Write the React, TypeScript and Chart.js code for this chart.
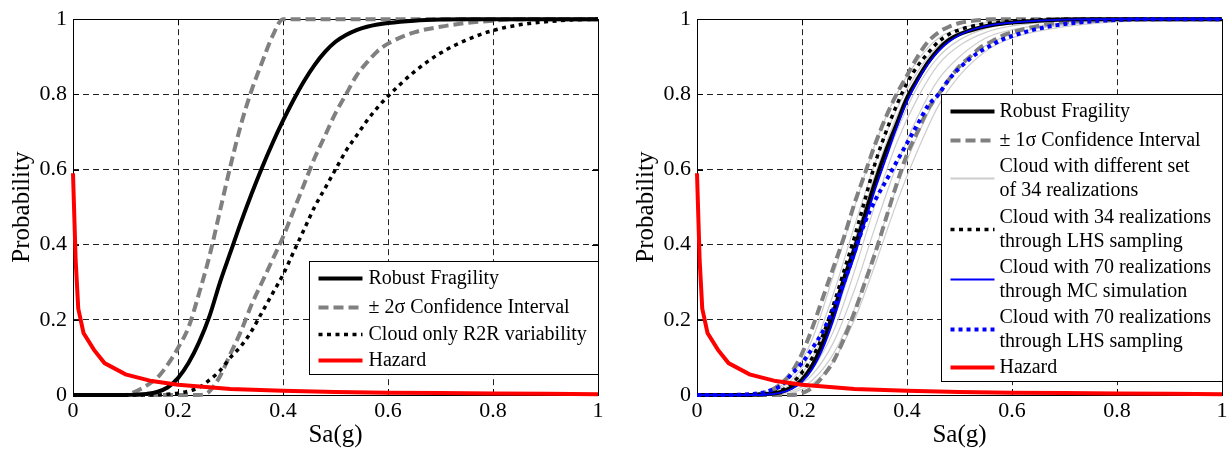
import React, { useEffect, useRef } from 'react';
import { Chart, registerables } from 'chart.js';

Chart.register(...registerables);

// ---------------- data ----------------
const TICK_VALUES = [0, 0.2, 0.4, 0.6, 0.8, 1];
const TICK_LABELS = ['0', '0.2', '0.4', '0.6', '0.8', '1'];

const SA = [
  0, 0.05, 0.1, 0.12, 0.14, 0.16,
  0.18, 0.2, 0.22, 0.24, 0.26, 0.28,
  0.3, 0.32, 0.34, 0.36, 0.38, 0.4,
  0.42, 0.44, 0.46, 0.48, 0.5, 0.52,
  0.54, 0.56, 0.58, 0.6, 0.65, 0.7,
  0.75, 0.8, 0.85, 0.9, 0.95, 1,
];

const LEFT_ROBUST = [
  0, 0, 0, 0.001, 0.003, 0.008,
  0.02, 0.045, 0.085, 0.14, 0.21, 0.3,
  0.38, 0.46, 0.535, 0.605, 0.67, 0.73,
  0.785, 0.835, 0.878, 0.913, 0.94, 0.958,
  0.971, 0.98, 0.986, 0.99, 0.996, 0.999,
  1, 1, 1, 1, 1, 1,
];
const LEFT_UPPER_2S = [
  0, 0, 0, 0.01, 0.025, 0.045,
  0.08, 0.125, 0.18, 0.27, 0.37, 0.49,
  0.61, 0.72, 0.81, 0.885, 0.955, 1,
  1, 1, 1, 1, 1, 1,
  1, 1, 1, 1, 1, 1,
  1, 1, 1, 1, 1, 1,
];
const LEFT_LOWER_2S = [
  0, 0, 0, 0, 0, 0,
  0, 0, 0, 0, 0.01, 0.05,
  0.11, 0.17, 0.24, 0.3, 0.36, 0.42,
  0.49, 0.56, 0.63, 0.69, 0.75, 0.8,
  0.85, 0.885, 0.915, 0.935, 0.965, 0.98,
  0.99, 0.996, 1, 1, 1, 1,
];
const LEFT_CLOUD_R2R = [
  0, 0, 0, 0, 0, 0,
  0.002, 0.005, 0.01, 0.02, 0.04, 0.065,
  0.1, 0.13, 0.17, 0.22, 0.27, 0.32,
  0.38, 0.44, 0.5, 0.55, 0.6, 0.65,
  0.69, 0.73, 0.765, 0.795, 0.86, 0.91,
  0.945, 0.97, 0.985, 0.993, 0.998, 1,
];

const RIGHT_ROBUST = [
  0, 0, 0, 0.001, 0.003, 0.008,
  0.02, 0.04, 0.08, 0.14, 0.22, 0.31,
  0.39, 0.48, 0.57, 0.65, 0.72, 0.79,
  0.84, 0.885, 0.92, 0.945, 0.96, 0.97,
  0.978, 0.984, 0.988, 0.991, 0.996, 0.999,
  1, 1, 1, 1, 1, 1,
];
const RIGHT_UPPER_1S = [
  0, 0, 0, 0.003, 0.012, 0.03,
  0.06, 0.11, 0.18, 0.26, 0.34, 0.42,
  0.51, 0.59, 0.67, 0.74, 0.8, 0.85,
  0.9, 0.94, 0.965, 0.98, 0.99, 0.995,
  0.998, 1, 1, 1, 1, 1,
  1, 1, 1, 1, 1, 1,
];
const RIGHT_LOWER_1S = [
  0, 0, 0, 0, 0, 0,
  0, 0.005, 0.02, 0.05, 0.09, 0.15,
  0.22, 0.3, 0.38, 0.47, 0.56, 0.64,
  0.7, 0.76, 0.8, 0.84, 0.875, 0.9,
  0.925, 0.94, 0.955, 0.965, 0.982, 0.992,
  0.996, 0.998, 1, 1, 1, 1,
];
const RIGHT_LHS34 = [
  0, 0, 0, 0.002, 0.005, 0.012,
  0.03, 0.06, 0.1, 0.16, 0.24, 0.33,
  0.42, 0.52, 0.62, 0.7, 0.77, 0.83,
  0.875, 0.91, 0.94, 0.96, 0.972, 0.98,
  0.986, 0.99, 0.993, 0.995, 0.998, 1,
  1, 1, 1, 1, 1, 1,
];
const RIGHT_MC70 = [
  0, 0, 0, 0, 0.002, 0.006,
  0.016, 0.035, 0.07, 0.125, 0.2, 0.29,
  0.37, 0.46, 0.55, 0.63, 0.71, 0.78,
  0.835, 0.88, 0.915, 0.94, 0.958, 0.97,
  0.978, 0.984, 0.988, 0.991, 0.996, 0.999,
  1, 1, 1, 1, 1, 1,
];
const RIGHT_LHS70 = [
  0, 0, 0.002, 0.005, 0.012, 0.025,
  0.055, 0.085, 0.125, 0.17, 0.23, 0.3,
  0.38, 0.46, 0.52, 0.57, 0.62, 0.67,
  0.72, 0.77, 0.8, 0.84, 0.87, 0.895,
  0.915, 0.93, 0.945, 0.955, 0.975, 0.987,
  0.994, 0.998, 1, 1, 1, 1,
];

// thin grey curves: different sets of 34 realizations
const SA_THIN = [0, 0.1, 0.14, 0.18, 0.22, 0.26, 0.3, 0.34, 0.38, 0.42, 0.46, 0.5, 0.55, 0.6, 0.7, 0.8, 1];
const REAL_1 = [0, 0, 0.01, 0.05, 0.15, 0.32, 0.5, 0.67, 0.8, 0.89, 0.95, 0.975, 0.99, 0.996, 1, 1, 1];
const REAL_2 = [0, 0, 0.008, 0.04, 0.12, 0.27, 0.45, 0.62, 0.76, 0.86, 0.93, 0.965, 0.985, 0.994, 0.999, 1, 1];
const REAL_3 = [0, 0, 0.006, 0.03, 0.1, 0.23, 0.41, 0.59, 0.74, 0.85, 0.92, 0.96, 0.982, 0.992, 0.998, 1, 1];
const REAL_4 = [0, 0, 0.004, 0.025, 0.085, 0.2, 0.37, 0.55, 0.7, 0.82, 0.9, 0.945, 0.975, 0.988, 0.997, 1, 1];
const REAL_5 = [0, 0, 0.003, 0.02, 0.07, 0.17, 0.33, 0.51, 0.67, 0.79, 0.88, 0.93, 0.965, 0.982, 0.995, 0.999, 1];
const REAL_6 = [0, 0, 0.002, 0.015, 0.055, 0.14, 0.28, 0.45, 0.61, 0.74, 0.84, 0.9, 0.95, 0.972, 0.99, 0.997, 1];
const REAL_7 = [0, 0, 0.001, 0.01, 0.04, 0.11, 0.23, 0.39, 0.55, 0.69, 0.8, 0.87, 0.93, 0.96, 0.985, 0.995, 1];
const REAL_8 = [0, 0, 0, 0.006, 0.03, 0.09, 0.2, 0.35, 0.51, 0.65, 0.77, 0.85, 0.915, 0.95, 0.98, 0.993, 1];
const REALIZATIONS = [REAL_1, REAL_2, REAL_3, REAL_4, REAL_5, REAL_6, REAL_7, REAL_8];

// hazard curve
const HAZ_SA = [0, 0.005, 0.01, 0.02, 0.04, 0.06, 0.1, 0.15, 0.2, 0.3, 0.4, 0.5, 0.6, 0.7, 0.8, 0.9, 1.0];
const HAZ_P = [0.59, 0.36, 0.23, 0.165, 0.12, 0.085, 0.055, 0.037, 0.027, 0.016, 0.011, 0.008, 0.006, 0.005, 0.004, 0.003, 0.002];

// ---------------- styles ----------------
const FONT_FAMILY = '"Liberation Serif", "Times New Roman", serif';
type Sty = { color: string; width: number; dash: number[] };
const S_ROBUST: Sty = { color: '#000000', width: 4, dash: [] };
const S_CI: Sty = { color: '#808080', width: 4, dash: [10, 5] };
const S_DOT_BLACK: Sty = { color: '#000000', width: 3.5, dash: [4, 4.5] };
const S_HAZ: Sty = { color: '#ff0000', width: 4, dash: [] };
const S_THIN: Sty = { color: '#cdcdcd', width: 1.2, dash: [] };
const S_BLUE: Sty = { color: '#0000ff', width: 1.8, dash: [] };
const S_BLUE_DOT: Sty = { color: '#0000ff', width: 4, dash: [4, 4] };

const pts = (xs: number[], ys: number[]) => xs.map((x, i) => ({ x, y: ys[i] }));

function ds(label: string, xs: number[], ys: number[], s: Sty, straight = false) {
  return {
    label,
    data: pts(xs, ys),
    borderColor: s.color,
    backgroundColor: s.color,
    borderWidth: s.width,
    borderDash: s.dash,
    borderCapStyle: 'butt',
    fill: false,
    pointRadius: 0,
    cubicInterpolationMode: straight ? 'default' : 'monotone',
    tension: straight ? 0 : 0.4,
    clip: 5,
  };
}

type Item = { lines: string[]; off: number; s: Sty };
type LegendCfg = { x: number; y: number; w: number; h: number; fontSize: number; gap: number; sx0: number; sx1: number; tx: number; items: Item[] };

function makePlugin(cfg: LegendCfg) {
  return {
    id: 'frameLegend',
    beforeDatasetsDraw(chart: any) {
      const { ctx, chartArea: a, scales } = chart;
      ctx.save();
      ctx.strokeStyle = '#000';
      ctx.lineWidth = 1;
      ctx.setLineDash([]);
      ctx.beginPath();
      for (const v of TICK_VALUES) {
        const px = Math.round(scales.x.getPixelForValue(v)) + 0.5;
        const py = Math.round(scales.y.getPixelForValue(v)) + 0.5;
        ctx.moveTo(px, a.bottom); ctx.lineTo(px, a.bottom - 6);
        ctx.moveTo(px, a.top); ctx.lineTo(px, a.top + 6);
        ctx.moveTo(a.left, py); ctx.lineTo(a.left + 6, py);
        ctx.moveTo(a.right, py); ctx.lineTo(a.right - 6, py);
      }
      ctx.stroke();
      ctx.strokeRect(Math.round(a.left) + 0.5, Math.round(a.top) + 0.5, Math.round(a.right - a.left), Math.round(a.bottom - a.top));
      ctx.restore();
    },
    afterDatasetsDraw(chart: any) {
      const { ctx, chartArea: a } = chart;
      const bx = Math.round(a.left + cfg.x) + 0.5;
      const by = Math.round(a.top + cfg.y) + 0.5;
      ctx.save();
      ctx.fillStyle = '#ffffff';
      ctx.fillRect(bx, by, cfg.w, cfg.h);
      ctx.strokeStyle = '#000';
      ctx.lineWidth = 1;
      ctx.setLineDash([]);
      ctx.strokeRect(bx, by, cfg.w, cfg.h);
      ctx.font = `${cfg.fontSize}px ${FONT_FAMILY}`;
      ctx.textBaseline = 'middle';
      ctx.textAlign = 'left';
      for (const it of cfg.items) {
        const y0 = by + it.off;
        const sy = y0 + ((it.lines.length - 1) * cfg.gap) / 2;
        ctx.strokeStyle = it.s.color;
        ctx.lineWidth = it.s.width;
        ctx.lineCap = 'butt';
        ctx.setLineDash(it.s.dash);
        ctx.beginPath();
        ctx.moveTo(bx + cfg.sx0, sy);
        ctx.lineTo(bx + cfg.sx1, sy);
        ctx.stroke();
        ctx.setLineDash([]);
        ctx.fillStyle = '#000';
        it.lines.forEach((t, k) => ctx.fillText(t, bx + cfg.tx, y0 + k * cfg.gap));
      }
      ctx.restore();
    },
  };
}

function makeConfig(datasets: any[], legend: LegendCfg, padLeft: number, padRight: number) {
  const tickFont = { family: FONT_FAMILY, size: 22 };
  const titleFont = { family: FONT_FAMILY, size: 25 };
  const gridColor = (c: any) => (c.tick && (c.tick.value === 0 || c.tick.value === 1) ? 'rgba(0,0,0,0)' : '#222222');
  return {
    type: 'line',
    data: { datasets },
    options: {
      animation: false,
      responsive: false,
      devicePixelRatio: 1,
      events: [],
      layout: { padding: { left: padLeft, right: padRight, top: 17, bottom: 0 } },
      plugins: { legend: { display: false }, tooltip: { enabled: false }, title: { display: false } },
      scales: {
        x: {
          type: 'linear',
          min: 0,
          max: 1,
          afterBuildTicks: (s: any) => { s.ticks = TICK_VALUES.map((v) => ({ value: v })); },
          afterFit: (s: any) => { s.height = 55; },
          ticks: { callback: (_v: any, i: number) => TICK_LABELS[i], font: tickFont, color: '#000', padding: 3, maxRotation: 0, autoSkip: false },
          grid: { color: gridColor, lineWidth: 1, drawTicks: false },
          border: { display: false, dash: [6, 4] },
          title: { display: true, text: 'Sa(g)', font: titleFont, color: '#000', padding: 0 },
        },
        y: {
          type: 'linear',
          min: 0,
          max: 1,
          afterBuildTicks: (s: any) => { s.ticks = TICK_VALUES.map((v) => ({ value: v })); },
          afterFit: (s: any) => { s.width = 73; },
          ticks: { callback: (_v: any, i: number) => TICK_LABELS[i], font: tickFont, color: '#000', padding: 6, autoSkip: false },
          grid: { color: gridColor, lineWidth: 1, drawTicks: false },
          border: { display: false, dash: [6, 4] },
          title: { display: true, text: 'Probability', font: titleFont, color: '#000', padding: { top: 7, bottom: 0 } },
        },
      },
    },
    plugins: [makePlugin(legend)],
  };
}

const LEFT_LEGEND: LegendCfg = {
  x: 236, y: 242, w: 289, h: 113, fontSize: 20, gap: 24, sx0: 9, sx1: 53, tx: 59,
  items: [
    { lines: ['Robust Fragility'], off: 17, s: S_ROBUST },
    { lines: ['± 2σ Confidence Interval'], off: 46, s: S_CI },
    { lines: ['Cloud only R2R variability'], off: 73, s: S_DOT_BLACK },
    { lines: ['Hazard'], off: 99, s: S_HAZ },
  ],
};

const RIGHT_LEGEND: LegendCfg = {
  x: 244, y: 75, w: 281, h: 287, fontSize: 20, gap: 24, sx0: 9, sx1: 53, tx: 58,
  items: [
    { lines: ['Robust Fragility'], off: 17, s: S_ROBUST },
    { lines: ['± 1σ Confidence Interval'], off: 46, s: S_CI },
    { lines: ['Cloud with different set', 'of 34 realizations'], off: 72, s: { ...S_THIN, width: 2 } },
    { lines: ['Cloud with 34 realizations', 'through LHS sampling'], off: 123, s: S_DOT_BLACK },
    { lines: ['Cloud with 70 realizations', 'through MC simulation'], off: 173, s: S_BLUE },
    { lines: ['Cloud with 70 realizations', 'through LHS sampling'], off: 223, s: S_BLUE_DOT },
    { lines: ['Hazard'], off: 273, s: S_HAZ },
  ],
};

function leftDatasets() {
  return [
    ds('Hazard', HAZ_SA, HAZ_P, S_HAZ, true),
    ds('Robust Fragility', SA, LEFT_ROBUST, S_ROBUST),
    ds('Cloud only R2R variability', SA, LEFT_CLOUD_R2R, S_DOT_BLACK),
    ds('+2σ', SA, LEFT_UPPER_2S, S_CI),
    ds('-2σ', SA, LEFT_LOWER_2S, S_CI),
  ];
}

function rightDatasets() {
  return [
    ds('Hazard', HAZ_SA, HAZ_P, S_HAZ, true),
    ds('Cloud with 70 realizations through LHS sampling', SA, RIGHT_LHS70, S_BLUE_DOT),
    ds('Cloud with 70 realizations through MC simulation', SA, RIGHT_MC70, S_BLUE),
    ds('Robust Fragility', SA, RIGHT_ROBUST, S_ROBUST),
    ds('Cloud with 34 realizations through LHS sampling', SA, RIGHT_LHS34, S_DOT_BLACK),
    ds('+1σ', SA, RIGHT_UPPER_1S, S_CI),
    ds('-1σ', SA, RIGHT_LOWER_1S, S_CI),
    ...REALIZATIONS.map((r, i) => ds(`Realization ${i + 1}`, SA_THIN, r, S_THIN)),
  ];
}

export default function App() {
  const leftRef = useRef<HTMLCanvasElement>(null);
  const rightRef = useRef<HTMLCanvasElement>(null);

  useEffect(() => {
    const c1 = new Chart(leftRef.current as HTMLCanvasElement, makeConfig(leftDatasets(), LEFT_LEGEND, 0, 17) as any);
    const c2 = new Chart(rightRef.current as HTMLCanvasElement, makeConfig(rightDatasets(), RIGHT_LEGEND, 0, 9) as any);
    return () => { c1.destroy(); c2.destroy(); };
  }, []);

  return (
    <div style={{ position: 'absolute', left: 0, top: 0, width: 1231, height: 450, background: '#fff' }}>
      <canvas ref={leftRef} width={615} height={450} style={{ position: 'absolute', left: 0, top: 0, width: 615, height: 450 }} />
      <canvas ref={rightRef} width={607} height={450} style={{ position: 'absolute', left: 624, top: 0, width: 607, height: 450 }} />
    </div>
  );
}
